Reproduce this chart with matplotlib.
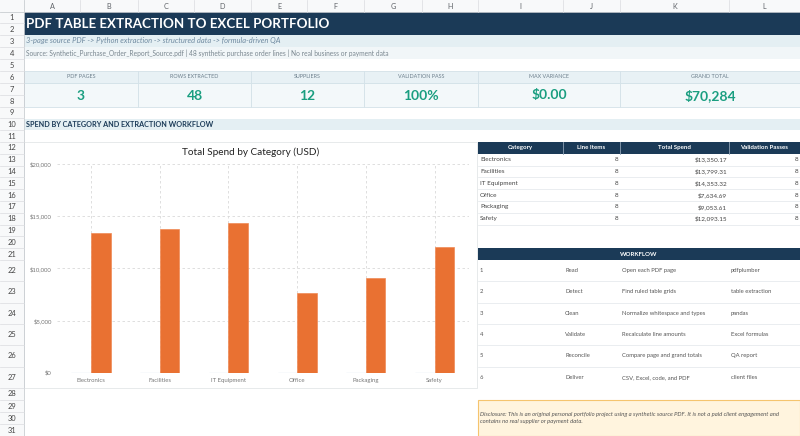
import numpy as np
import matplotlib.pyplot as plt
from matplotlib.patches import Rectangle
from matplotlib.ticker import FuncFormatter

TITLE = "PDF TABLE EXTRACTION TO EXCEL PORTFOLIO"
SUBTITLE = "3-page source PDF -> Python extraction -> structured data -> formula-driven QA"
SOURCE = ("Source: Synthetic_Purchase_Order_Report_Source.pdf | 48 synthetic purchase "
          "order lines | No real business or payment data")
SECTION = "SPEND BY CATEGORY AND EXTRACTION WORKFLOW"
CHART_TITLE = "Total Spend by Category (USD)"

kpi_labels = ["PDF PAGES", "ROWS EXTRACTED", "SUPPLIERS",
              "VALIDATION PASS", "MAX VARIANCE", "GRAND TOTAL"]
kpi_values = ["3", "48", "12", "100%", "$0.00", "$70,284"]

categories = ["Electronics", "Facilities", "IT Equipment", "Office", "Packaging", "Safety"]
line_items = [8, 8, 8, 8, 8, 8]
total_spend = [13350.17, 13799.31, 14353.32, 7634.69, 9053.61, 12093.15]
validation_passes = [8, 8, 8, 8, 8, 8]
table_headers = ["Category", "Line Items", "Total Spend", "Validation Passes"]

step_numbers = ["1", "2", "3", "4", "5", "6"]
step_names = ["Read", "Detect", "Clean", "Validate", "Reconcile", "Deliver"]
step_actions = ["Open each PDF page", "Find ruled table grids",
                "Normalize whitespace and types", "Recalculate line amounts",
                "Compare page and grand totals", "CSV, Excel, code, and PDF"]
step_tools = ["pdfplumber", "table extraction", "pandas", "Excel formulas",
              "QA report", "client files"]

DISCLOSURE = ("Disclosure: This is an original personal portfolio project using a synthetic "
              "source PDF. It is not a paid client engagement and\ncontains no real supplier "
              "or payment data.")

# sheet layout in pixels
W, H = 800, 436
NAVY = "#1b3a57"
TEAL = "#1a9e80"
ORANGE = "#e97132"
col_letters = list("ABCDEFGHIJKL")
col_edges = [24, 80, 138, 194, 251, 307, 364, 422, 478, 563, 620, 729, 800]
row_edges = [12, 23.5, 35, 47, 59, 71, 83, 95, 107, 118.5, 130, 142]
row_edges += [142 + 11.8 * i for i in range(1, 11)]
row_edges += [260 + 21.33 * i for i in range(1, 7)]
row_edges += [400, 412, 424, 436]


def col_x(c):
    return col_edges[col_letters.index(c)]


def col_x1(c):
    return col_edges[col_letters.index(c) + 1]


def row_y(r):
    return row_edges[r - 1]


def row_y1(r):
    return row_edges[r]


def box(ax, x0, x1, y0, y1, color, edge="none", lw=0.6, z=1):
    ax.add_patch(Rectangle((x0, y0), x1 - x0, y1 - y0, facecolor=color,
                           edgecolor=edge, linewidth=lw, zorder=z))


def draw_headers(ax):
    """Column letters and row numbers of the spreadsheet."""
    box(ax, 0, W, 0, 12, "#f8f9fa")
    box(ax, 0, 24, 0, H, "#f8f9fa")
    ax.plot([0, W], [12, 12], color="#c9cdd1", lw=0.6)
    ax.plot([24, 24], [0, H], color="#c9cdd1", lw=0.6)
    for i, c in enumerate(col_letters):
        x0, x1 = col_edges[i], col_edges[i + 1]
        ax.plot([x1, x1], [0, 12], color="#dadce0", lw=0.5)
        ax.text((x0 + x1) / 2, 6.5, c, ha="center", va="center",
                fontsize=5.2, color="#5f6368")
    for r in range(1, len(row_edges)):
        y0, y1 = row_edges[r - 1], row_edges[r]
        ax.plot([0, 24], [y1, y1], color="#dadce0", lw=0.5)
        ax.text(12, (y0 + y1) / 2, str(r), ha="center", va="center",
                fontsize=5.4, color="#444444")


def draw_banner(ax):
    """Title, subtitle, source, KPI cards and section header."""
    box(ax, 24, W, row_y(1), row_y1(2), NAVY)
    ax.text(26, (row_y(1) + row_y1(2)) / 2 + 0.5, TITLE, ha="left", va="center",
            fontsize=9.6, fontweight="bold", color="white")
    box(ax, 24, W, row_y(3), row_y1(3), "#e4eff3")
    ax.text(26, (row_y(3) + row_y1(3)) / 2, SUBTITLE, ha="left", va="center",
            fontsize=5.4, style="italic", color="#6f8aa0")
    box(ax, 24, W, row_y(4), row_y1(4), "#f1f6f8")
    ax.text(26, (row_y(4) + row_y1(4)) / 2, SOURCE, ha="left", va="center",
            fontsize=4.75, color="#7a8790")

    pairs = [("A", "B"), ("C", "D"), ("E", "F"), ("G", "H"), ("I", "J"), ("K", "L")]
    for (c0, c1), lab, val in zip(pairs, kpi_labels, kpi_values):
        x0, x1 = col_x(c0), col_x1(c1)
        box(ax, x0, x1, row_y(6), row_y1(6), "#e8f1f5", edge="#d3e1e8")
        box(ax, x0, x1, row_y(7), row_y1(8), "#f3f8fa", edge="#d3e1e8")
        ax.text((x0 + x1) / 2, (row_y(6) + row_y1(6)) / 2, lab, ha="center",
                va="center", fontsize=3.9, color="#6d7f8c")
        ax.text((x0 + x1) / 2, (row_y(7) + row_y1(8)) / 2 + 0.5, val, ha="center",
                va="center", fontsize=10, fontweight="bold", color=TEAL)

    box(ax, 24, W, row_y(10), row_y1(10), "#e4eff3")
    ax.text(26, (row_y(10) + row_y1(10)) / 2, SECTION, ha="left", va="center",
            fontsize=5.2, fontweight="bold", color=NAVY)


def draw_category_table(ax):
    """Summary table to the right of the chart."""
    cols = ["I", "J", "K", "L"]
    y0, y1 = row_y(12), row_y1(12)
    box(ax, col_x("I"), W, y0, y1, NAVY)
    for c, head in zip(cols, table_headers):
        x0, x1 = col_x(c), col_x1(c)
        if c != "I":
            ax.plot([x0, x0], [y0, y1], color="#8ea2b5", lw=0.6)
        ax.text((x0 + x1) / 2, (y0 + y1) / 2, head, ha="center", va="center",
                fontsize=4.4, fontweight="bold", color="white")
    for i, cat in enumerate(categories):
        r = 13 + i
        ry0, ry1 = row_y(r), row_y1(r)
        yc = (ry0 + ry1) / 2
        ax.plot([col_x("I"), W], [ry1, ry1], color="#e1e6ea", lw=0.5)
        ax.text(col_x("I") + 2, yc, cat, ha="left", va="center",
                fontsize=4.6, color="#444444")
        ax.text(col_x1("J") - 2, yc, str(line_items[i]), ha="right", va="center",
                fontsize=4.6, color="#444444")
        ax.text(col_x1("K") - 2, yc, f"${total_spend[i]:,.2f}", ha="right",
                va="center", fontsize=4.6, color="#444444")
        ax.text(col_x1("L") - 2, yc, str(validation_passes[i]), ha="right",
                va="center", fontsize=4.6, color="#444444")


def draw_workflow(ax):
    """Workflow steps table."""
    y0, y1 = row_y(21), row_y1(21)
    box(ax, col_x("I"), W, y0, y1, NAVY)
    ax.text((col_x("I") + W) / 2, (y0 + y1) / 2, "WORKFLOW", ha="center",
            va="center", fontsize=4.4, fontweight="bold", color="white")
    for i in range(len(step_numbers)):
        r = 22 + i
        ry0, ry1 = row_y(r), row_y1(r)
        yc = (ry0 + ry1) / 2
        if i < len(step_numbers) - 1:
            ax.plot([col_x("I"), W], [ry1, ry1], color="#e1e6ea", lw=0.5)
        for c, txt in zip(["I", "J", "K", "L"],
                          [step_numbers[i], step_names[i], step_actions[i], step_tools[i]]):
            ax.text(col_x(c) + 2, yc, txt, ha="left", va="center",
                    fontsize=4.2, color="#555555")


def draw_disclosure(ax):
    box(ax, col_x("I"), W - 0.5, 400, 435.5, "#fff4de", edge="#f5c46e", lw=0.8)
    ax.text(col_x("I") + 1.5, 418, DISCLOSURE, ha="left", va="center",
            fontsize=4.25, style="italic", color="#555555", linespacing=1.35)


def draw_chart(fig, ax):
    """Grouped bar chart of line items and spend by category."""
    box(ax, 24, 477, 142, 388, "white", edge="#e3e6e8", lw=0.6, z=0.5)
    ax.text(250.5, 152.7, CHART_TITLE, ha="center", va="center",
            fontsize=7.2, color="#222222")
    left, right, top, bottom = 56.6, 469.0, 164.0, 372.7
    cax = fig.add_axes([left / W, (H - bottom) / H, (right - left) / W,
                        (bottom - top) / H])
    cax.set_facecolor("none")
    x = np.arange(len(categories))
    w = 0.285
    cax.bar(x - w / 2, line_items, width=w, color="#e4eef6",
            edgecolor="#dde9f3", linewidth=1.0, zorder=3)
    cax.bar(x + w / 2, total_spend, width=w, color=ORANGE,
            edgecolor="#f08a55", linewidth=0.5, zorder=3)
    cax.set_xlim(-0.5, len(categories) - 0.5)
    cax.set_ylim(0, 20000)
    cax.set_yticks([0, 5000, 10000, 15000, 20000])
    cax.yaxis.set_major_formatter(FuncFormatter(lambda v, _: f"${v:,.0f}"))
    cax.set_xticks(x)
    cax.set_xticklabels(categories)
    cax.tick_params(length=0, labelsize=4.3, labelcolor="#777777", pad=3.5)
    cax.grid(True, color="#d9d9d9", linestyle=(0, (3, 3)), linewidth=0.6, zorder=0)
    for s in cax.spines.values():
        s.set_visible(False)


def main():
    plt.rcParams['font.family'] = ['Lato', 'DejaVu Sans']
    fig = plt.figure(figsize=(8, 4.36), dpi=100)
    sheet = fig.add_axes([0, 0, 1, 1])
    sheet.set_xlim(0, W)
    sheet.set_ylim(H, 0)
    sheet.axis("off")
    draw_headers(sheet)
    draw_banner(sheet)
    draw_chart(fig, sheet)
    draw_category_table(sheet)
    draw_workflow(sheet)
    draw_disclosure(sheet)
    fig.savefig("out.png", dpi=100)


if __name__ == "__main__":
    main()
